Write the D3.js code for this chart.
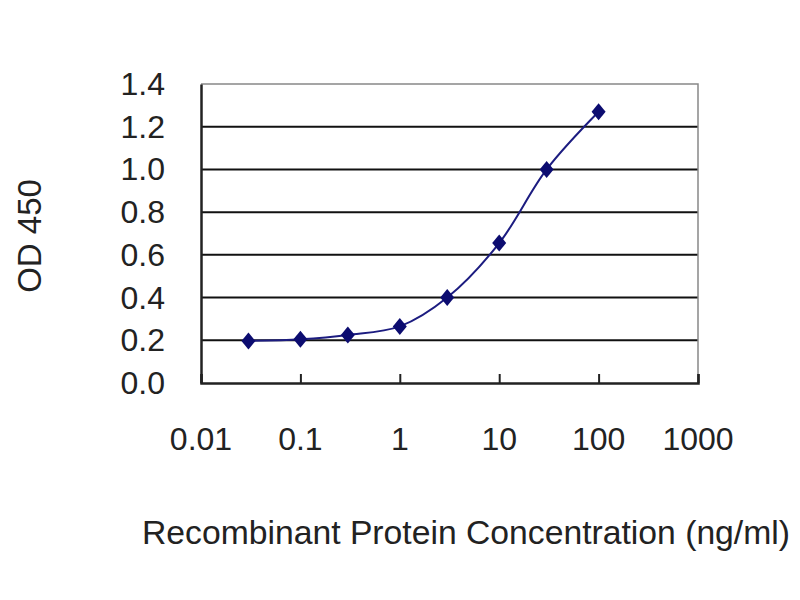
<!DOCTYPE html>
<html>
<head>
<meta charset="utf-8">
<script src="https://cdn.jsdelivr.net/npm/d3@7"></script>
<style>
    body { margin: 0; background: #fff; }
    text { font-family: Arial, "Liberation Sans", sans-serif; fill: #222; }
</style>
</head>
<body>
<div id="chart"></div>
<script>
const concentrations = [0.03, 0.1, 0.3, 1, 3, 10, 30, 100];
const od450 = [0.197, 0.205, 0.225, 0.265, 0.40, 0.655, 1.0, 1.27];
const xTicks = [0.01, 0.1, 1, 10, 100, 1000];
const yTicks = [0, 0.2, 0.4, 0.6, 0.8, 1.0, 1.2, 1.4];

const width = 800;
const height = 600;
const margin = { top: 84, right: 102, bottom: 217, left: 201 };
const innerWidth = width - margin.left - margin.right;
const innerHeight = height - margin.top - margin.bottom;

const svg = d3.select('#chart')
    .append('svg')
    .attr('width', width)
    .attr('height', height);

const g = svg.append('g')
    .attr('transform', `translate(${margin.left}, ${margin.top})`);

const x = d3.scaleLog()
    .domain([0.01, 1000])
    .range([0, innerWidth]);

const y = d3.scaleLinear()
    .domain([0, 1.4])
    .range([innerHeight, 0]);

// gridlines
g.append('g')
    .selectAll('line')
    .data(yTicks.filter(d => d > 0 && d < 1.4))
    .enter()
    .append('line')
    .attr('x1', 0)
    .attr('x2', innerWidth)
    .attr('y1', d => y(d))
    .attr('y2', d => y(d))
    .attr('stroke', '#111')
    .attr('stroke-width', 2);

// top and right border
g.append('path')
    .attr('d', `M0,${y(1.4)}H${innerWidth}V${innerHeight}`)
    .attr('fill', 'none')
    .attr('stroke', '#888')
    .attr('stroke-width', 1.5);

// x axis with inward ticks
const xAxis = g.append('g')
    .attr('transform', `translate(0, ${innerHeight})`)
    .call(d3.axisBottom(x).tickValues(xTicks).tickSize(-9));
xAxis.selectAll('.tick text').remove();
xAxis.select('.domain').attr('stroke', '#222').attr('stroke-width', 2.5);
xAxis.selectAll('.tick line').attr('stroke', '#222').attr('stroke-width', 2);

g.append('g')
    .selectAll('text')
    .data(xTicks)
    .enter()
    .append('text')
    .attr('x', d => x(d))
    .attr('y', innerHeight + 67)
    .attr('text-anchor', 'middle')
    .attr('font-size', 32)
    .text(d => d3.format('~g')(d));

// y axis
const yAxis = g.append('g')
    .call(d3.axisLeft(y).tickValues(yTicks).tickSize(0));
yAxis.selectAll('.tick text').remove();
yAxis.select('.domain').attr('stroke', '#222').attr('stroke-width', 2.5);

g.append('g')
    .selectAll('text')
    .data(yTicks)
    .enter()
    .append('text')
    .attr('x', -36)
    .attr('y', d => y(d) + 11)
    .attr('text-anchor', 'end')
    .attr('font-size', 32)
    .text(d => d3.format('.1f')(d));

// curve
const points = concentrations.map((c, i) => [c, od450[i]]);

const line = d3.line()
    .x(d => x(d[0]))
    .y(d => y(d[1]))
    .curve(d3.curveCatmullRom.alpha(0.5));

g.append('path')
    .datum(points)
    .attr('d', line)
    .attr('fill', 'none')
    .attr('stroke', '#1c1c80')
    .attr('stroke-width', 2);

g.append('g')
    .selectAll('path')
    .data(points)
    .enter()
    .append('path')
    .attr('transform', d => `translate(${x(d[0])}, ${y(d[1])})`)
    .attr('d', 'M0,-8.5L7,0L0,8.5L-7,0Z')
    .attr('fill', '#0c0c70');

// axis titles
svg.append('text')
    .attr('transform', 'translate(41, 236) rotate(-90)')
    .attr('text-anchor', 'middle')
    .attr('font-size', 33)
    .text('OD 450');

svg.append('text')
    .attr('x', 142)
    .attr('y', 544)
    .attr('font-size', 33)
    .attr('textLength', 648)
    .attr('lengthAdjust', 'spacingAndGlyphs')
    .text('Recombinant Protein Concentration (ng/ml)');
</script>
</body>
</html>
